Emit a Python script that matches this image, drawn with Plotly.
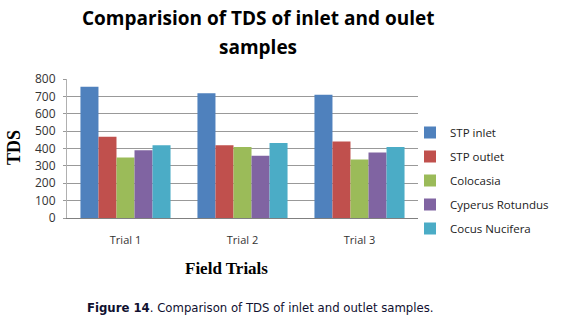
import plotly.graph_objects as go

categories = ["Trial 1", "Trial 2", "Trial 3"]
series_names = ["STP inlet", "STP outlet", "Colocasia", "Cyperus Rotundus", "Cocus Nucifera"]
stp_inlet = [756, 718, 710]
stp_outlet = [467, 419, 440]
colocasia = [348, 408, 337]
cyperus = [390, 358, 377]
cocus = [419, 431, 408]
colors = ["#4F81BD", "#C0504D", "#9BBB59", "#8064A2", "#4BACC6"]

W, H = 563, 322
l, r, t, b = 67, 145, 79, 104
pw, ph = W - l - r, H - t - b

def px(x):
    return (x - l) / pw

def py(y):
    return (H - b - y) / ph

fig = go.Figure()
for name, vals, c in zip(series_names, [stp_inlet, stp_outlet, colocasia, cyperus, cocus], colors):
    fig.add_trace(go.Bar(x=categories, y=vals, name=name, legendgroup=name,
                         marker=dict(color=c, line=dict(width=0))))

fig.update_layout(
    width=W, height=H,
    margin=dict(l=l, r=r, t=t, b=b, autoexpand=False),
    paper_bgcolor="white", plot_bgcolor="white",
    barmode="group", bargap=0.23, bargroupgap=0,
    font=dict(family="Liberation Sans, Arial", size=11, color="#333333"),
    showlegend=True,
    legend=dict(x=px(410), y=py(118), xanchor="left", yanchor="top",
                font=dict(family="Open Sans, Liberation Sans", size=11.5, color="#222222"),
                itemwidth=30, traceorder="grouped", tracegroupgap=5, bgcolor="rgba(0,0,0,0)"),
    xaxis=dict(showline=True, linecolor="#808080", linewidth=1, ticks="", showgrid=False,
               ticklabelstandoff=12, tickfont=dict(family="Open Sans, Liberation Sans", size=11, color="#333333")),
    yaxis=dict(range=[0, 800], dtick=100, showgrid=True, gridcolor="#999999", gridwidth=1,
               showline=True, linecolor="#B0B0B0", ticks="outside", ticklen=3, tickcolor="#999999",
               ticklabelstandoff=5,
               tickfont=dict(family="Open Sans, Liberation Sans", size=12, color="#333333"), zeroline=False),
    annotations=[
        dict(text="<b>Comparision of TDS of inlet and oulet</b>", x=px(258), y=py(18),
             xref="paper", yref="paper", showarrow=False, xanchor="center", yanchor="middle",
             font=dict(family="Open Sans, Liberation Sans", size=19, color="#000000")),
        dict(text="<b>samples</b>", x=px(258), y=py(47),
             xref="paper", yref="paper", showarrow=False, xanchor="center", yanchor="middle",
             font=dict(family="Open Sans, Liberation Sans", size=19, color="#000000")),
        dict(text="<b>TDS</b>", x=px(14), y=py(148), xref="paper", yref="paper", showarrow=False,
             textangle=-90, xanchor="center", yanchor="middle",
             font=dict(family="Liberation Serif, Times New Roman", size=18, color="#000000")),
        dict(text="<b>Field Trials</b>", x=px(226), y=py(268), xref="paper", yref="paper", showarrow=False,
             xanchor="center", yanchor="middle",
             font=dict(family="Liberation Serif, Times New Roman", size=17, color="#000000")),
        dict(text="<b>Figure 14</b>. Comparison of TDS of inlet and outlet samples.", x=px(260), y=py(307),
             xref="paper", yref="paper", showarrow=False, xanchor="center", yanchor="middle",
             font=dict(family="DejaVu Sans Condensed, Liberation Sans Narrow, Liberation Sans", size=13,
                       color="#101030")),
    ],
)

fig.write_html("out.html")
